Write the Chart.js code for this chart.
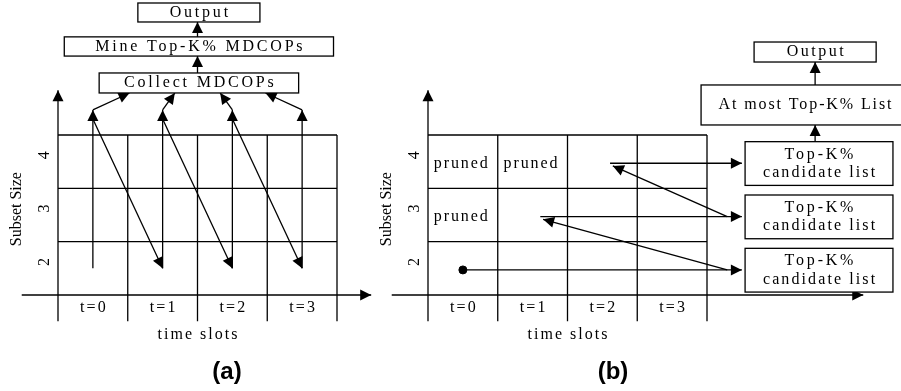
<!DOCTYPE html>
<html>
<head>
<meta charset="utf-8">
<script src="https://cdn.jsdelivr.net/npm/chart.js@4.4.1/dist/chart.umd.min.js"></script>
<style>
  html, body { margin: 0; padding: 0; background: #fff; }
  #wrap { position: relative; width: 901px; height: 391px; overflow: hidden; }
  #wrap canvas { position: absolute; top: 0; }
</style>
</head>
<body>
<div id="wrap">
  <canvas id="chartA" width="372" height="391" style="left:0"></canvas>
  <canvas id="chartB" width="529" height="391" style="left:372px"></canvas>
</div>
<script>
  // diagram content
  const timeSlots = ["t=0", "t=1", "t=2", "t=3"];
  const subsetSizes = [2, 3, 4];
  const axisTitleX = "time slots";
  const axisTitleY = "Subset Size";
  const stepsA = ["Collect MDCOPs", "Mine Top-K% MDCOPs", "Output"];
  const prunedCells = [[0, 4], [1, 4], [0, 3]]; // [slot, size]
  const candidateCells = [[0, 2], [1, 3], [2, 4]]; // [slot, size]
  const candidateLabel = ["Top-K%", "candidate list"];
  const stepsB = ["At most Top-K% List", "Output"];
  const panelLabels = ["(a)", "(b)"];

  const SERIF = '"Liberation Serif", "Times New Roman", serif';
  const SANS = '"Liberation Sans", Arial, sans-serif';
  const F16 = "16px " + SERIF;

  // one straight line (optionally with arrow head) as a line dataset
  const seg = (from, to, head) => ({
    type: "line",
    data: [{ x: from[0], y: from[1] }, { x: to[0], y: to[1] }],
    head: head || null,
    borderColor: "#000",
    borderWidth: 1.3,
    pointRadius: 0,
    fill: false,
    tension: 0,
    clip: false,
  });

  const gridSets = (xAxisEnd) => {
    const sets = [];
    for (let k = 0; k <= timeSlots.length; k++) {
      sets.push(seg([k - 0.5, 4.5], [k - 0.5, 1.01]));
    }
    subsetSizes.forEach((s) => sets.push(seg([-0.5, s + 0.5], [timeSlots.length - 0.5, s + 0.5])));
    sets.push(seg([-0.5, 4.5], [-0.5, 5.34], "end"));
    sets.push(seg([-1.02, 1.5], [xAxisEnd, 1.5], "end"));
    return sets;
  };

  const drawHead = (ctx, x0, y0, x1, y1) => {
    const ang = Math.atan2(y1 - y0, x1 - x0);
    ctx.save();
    ctx.translate(x1, y1);
    ctx.rotate(ang);
    ctx.beginPath();
    ctx.moveTo(0, 0);
    ctx.lineTo(-11, -5.5);
    ctx.lineTo(-11, 5.5);
    ctx.closePath();
    ctx.fillStyle = "#000";
    ctx.fill();
    ctx.restore();
  };

  const arrowHeads = {
    id: "arrowHeads",
    afterDatasetsDraw(chart) {
      chart.data.datasets.forEach((ds, i) => {
        if (!ds.head) return;
        const pts = chart.getDatasetMeta(i).data;
        const a = pts[0];
        const b = pts[pts.length - 1];
        drawHead(chart.ctx, a.x, a.y, b.x, b.y);
      });
    },
  };

  // text / box helpers working in scale units
  const put = (chart, str, x, y, opt = {}) => {
    const ctx = chart.ctx;
    const sp = opt.spacing || 0;
    ctx.save();
    ctx.font = opt.font || F16;
    ctx.fillStyle = "#000";
    ctx.textAlign = "center";
    ctx.textBaseline = "middle";
    ctx.letterSpacing = sp + "px";
    ctx.translate(chart.scales.x.getPixelForValue(x), chart.scales.y.getPixelForValue(y));
    if (opt.rotate) ctx.rotate(opt.rotate);
    ctx.fillText(str, sp / 2, 0);
    ctx.restore();
  };

  const box = (chart, cx, cy, hw, hh) => {
    const sx = chart.scales.x;
    const sy = chart.scales.y;
    const x0 = sx.getPixelForValue(cx - hw);
    const x1 = sx.getPixelForValue(cx + hw);
    const y0 = sy.getPixelForValue(cy + hh);
    const y1 = sy.getPixelForValue(cy - hh);
    const ctx = chart.ctx;
    ctx.save();
    ctx.fillStyle = "#fff";
    ctx.fillRect(x0, y0, x1 - x0, y1 - y0);
    ctx.strokeStyle = "#000";
    ctx.lineWidth = 1.3;
    ctx.strokeRect(x0, y0, x1 - x0, y1 - y0);
    ctx.restore();
  };

  const axisTexts = (chart, label, labelX) => {
    subsetSizes.forEach((s) => put(chart, String(s), -0.686, s + 0.12, { rotate: -Math.PI / 2 }));
    put(chart, axisTitleY, -1.088, 3.11, { rotate: -Math.PI / 2 });
    timeSlots.forEach((t, i) => put(chart, t, i, 1.256, { spacing: 2.2 }));
    put(chart, axisTitleX, 1.5, 0.75, { spacing: 2 });
    put(chart, label, labelX, 0.04, { font: "bold 24px " + SANS });
  };

  const baseOptions = (padding) => ({
    responsive: false,
    animation: false,
    devicePixelRatio: 1,
    layout: { padding },
    plugins: { legend: { display: false }, tooltip: { enabled: false } },
    scales: {
      x: { type: "linear", min: -0.5, max: 3.5, display: false },
      y: { type: "linear", min: 1.5, max: 4.5, display: false },
    },
  });

  // ---------- panel (a) ----------
  const setsA = gridSets(3.99);
  const mid = (timeSlots.length - 1) / 2;
  timeSlots.forEach((t, i) => {
    setsA.push(seg([i, 2.0], [i, 4.97], "end"));
    if (i < timeSlots.length - 1) setsA.push(seg([i, 4.8], [i + 1, 2.0], "end"));
    setsA.push(seg([i, 4.97], [mid + (i - mid) * 0.65, 5.288], "end"));
  });
  setsA.push(seg([mid, 5.663], [mid, 5.981], "end"));
  setsA.push(seg([mid, 6.338], [mid, 6.619], "end"));

  const boxesA = {
    id: "boxesA",
    afterDraw(chart) {
      const dims = [[1.43, 5.4755, 0.1875], [1.93, 6.16, 0.18], [0.875, 6.797, 0.178]];
      stepsA.forEach((txt, i) => {
        const [hw, cy, hh] = dims[i];
        box(chart, mid + 0.02, cy, hw, hh);
        put(chart, txt, mid + 0.02, cy, { spacing: 2.8 });
      });
      axisTexts(chart, panelLabels[0], 1.923);
    },
  };

  new Chart(document.getElementById("chartA"), {
    type: "line",
    data: { datasets: setsA },
    options: baseOptions({ left: 58, right: 35, top: 135, bottom: 96 }),
    plugins: [arrowHeads, boxesA],
  });

  // ---------- panel (b) ----------
  const setsB = gridSets(5.74);
  const listX = 5.106;
  candidateCells.forEach(([t, s], i) => {
    const x0 = i === 0 ? t : t + 0.11;
    setsB.push(seg([x0, s - 0.03], [4.0, s - 0.03], "end"));
    if (i > 0) {
      const prev = candidateCells[i - 1];
      setsB.push(seg([3.79, prev[1] - 0.03], [t + 0.15, s - 0.08], "end"));
    }
  });
  // starting point
  setsB.push({
    type: "line",
    data: [{ x: candidateCells[0][0], y: candidateCells[0][1] - 0.03 }],
    pointRadius: 4,
    pointBackgroundColor: "#000",
    pointBorderColor: "#000",
    showLine: false,
    clip: false,
  });
  setsB.push(seg([5.05, 4.37], [5.05, 4.688], "end"));
  setsB.push(seg([5.05, 5.438], [5.05, 5.869], "end"));

  const boxesB = {
    id: "boxesB",
    afterDraw(chart) {
      prunedCells.forEach(([t, s]) => put(chart, "pruned", t - 0.03, s - 0.04, { spacing: 1.9 }));
      candidateCells.forEach(([, s]) => {
        box(chart, listX, s - 0.035, 1.06, 0.41);
        put(chart, candidateLabel[0], listX, s - 0.035 + 0.17, { spacing: 2.8 });
        put(chart, candidateLabel[1], listX, s - 0.035 - 0.175, { spacing: 2.1 });
      });
      box(chart, 4.905, 5.063, 1.49, 0.375);
      put(chart, stepsB[0], 4.905, 5.063, { spacing: 1.9 });
      box(chart, 5.05, 6.056, 0.875, 0.1875);
      put(chart, stepsB[1], 5.05, 6.056, { spacing: 2.5 });
      axisTexts(chart, panelLabels[1], 2.152);
    },
  };

  new Chart(document.getElementById("chartB"), {
    type: "line",
    data: { datasets: setsB },
    options: baseOptions({ left: 56, right: 194, top: 135, bottom: 96 }),
    plugins: [arrowHeads, boxesB],
  });
</script>
</body>
</html>
